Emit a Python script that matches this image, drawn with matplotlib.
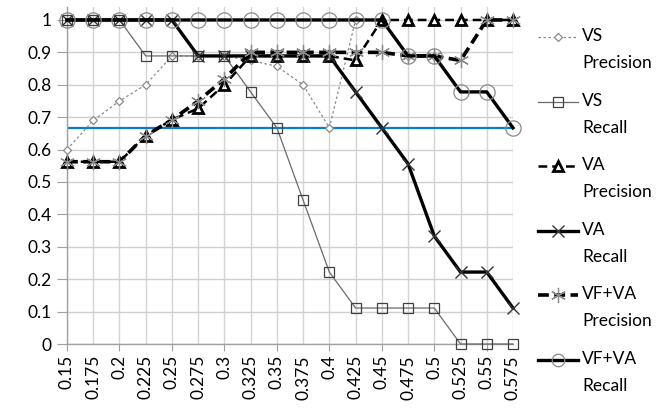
import numpy as np
import matplotlib.pyplot as plt
from matplotlib.lines import Line2D

# categories (threshold values)
thresholds = ['0.15', '0.175', '0.2', '0.225', '0.25', '0.275', '0.3', '0.325', '0.35',
              '0.375', '0.4', '0.425', '0.45', '0.475', '0.5', '0.525', '0.55', '0.575']

nan = np.nan
vs_precision = [0.6, 0.69, 0.75, 0.8, 0.889, 0.889, 0.889, 0.875, 0.857, 0.8, 0.667,
                1.0, 1.0, 0.889, 0.889, nan, nan, nan]
vs_recall = [1.0, 1.0, 1.0, 0.889, 0.889, 0.889, 0.889, 0.778, 0.667, 0.444, 0.222,
             0.111, 0.111, 0.111, 0.111, 0.0, 0.0, 0.0]
va_precision = [0.5625, 0.5625, 0.5625, 0.643, 0.692, 0.727, 0.8, 0.889, 0.889, 0.889, 0.889,
                0.875, 1.0, 1.0, 1.0, 1.0, 1.0, 1.0]
va_recall = [1.0, 1.0, 1.0, 1.0, 1.0, 0.889, 0.889, 0.889, 0.889, 0.889, 0.889,
             0.778, 0.667, 0.556, 0.333, 0.222, 0.222, 0.111]
vfva_precision = [0.5625, 0.5625, 0.5625, 0.643, 0.692, 0.75, 0.818, 0.9, 0.9, 0.9, 0.9,
                  0.9, 0.9, 0.889, 0.889, 0.875, 1.0, 1.0]
vfva_recall = [1.0, 1.0, 1.0, 1.0, 1.0, 1.0, 1.0, 1.0, 1.0, 1.0, 1.0,
               1.0, 1.0, 0.889, 0.889, 0.778, 0.778, 0.667]
reference_level = 0.667

series_labels = ['VS\nPrecision', 'VS\nRecall', 'VA\nPrecision', 'VA\nRecall',
                 'VF+VA\nPrecision', 'VF+VA\nRecall']

y_ticks = [0, 0.1, 0.2, 0.3, 0.4, 0.5, 0.6, 0.7, 0.8, 0.9, 1]
y_tick_labels = ['0', '0.1', '0.2', '0.3', '0.4', '0.5', '0.6', '0.7', '0.8', '0.9', '1']

plt.rcParams['font.family'] = ['Lato', 'DejaVu Sans']

W, H = 657, 415
fig = plt.figure(figsize=(W / 100, H / 100), dpi=100)
ax = fig.add_axes([67 / W, 1 - 344 / H, (513 - 67) / W, (344 - 7) / H])

x = np.arange(len(thresholds))

# grid
for xi in x:
    ax.axvline(xi, color='#d4d4d4', lw=1, zorder=0)
for yv in y_ticks:
    ax.axhline(yv, color='#cfcfcf', lw=1, zorder=0)

ax.axhline(reference_level, color='#0a7bd1', lw=1.6, zorder=1)

styles = [
    dict(color='#8a8a8a', lw=0.9, ls=(0, (2, 2)), marker='D', ms=4,
         mfc='white', mec='#8a8a8a', mew=0.9),
    dict(color='#6a6a6a', lw=0.9, ls='-', marker='s', ms=7,
         mfc='none', mec='#404040', mew=0.9),
    dict(color='black', lw=1.8, ls=(0, (3.5, 2)), marker='^', ms=7,
         mfc='white', mec='black', mew=2),
    dict(color='black', lw=2.4, ls='-', marker='x', ms=8, mec='#333333', mew=1.0),
    dict(color='black', lw=2.6, ls=(0, (3, 1.5)), marker=(6, 2, 0), ms=11,
         mec='#8a8a8a', mew=0.9),
    dict(color='black', lw=2.4, ls='-', marker='o', ms=11,
         mfc='none', mec='#8a8a8a', mew=0.9),
]
series = [vs_precision, vs_recall, va_precision, va_recall, vfva_precision, vfva_recall]
zorders = [3, 3, 4, 4, 4, 5]

for vals, st, z in zip(series, styles, zorders):
    ax.plot(x, vals, zorder=z, clip_on=False, **st)

ax.set_xlim(0, len(thresholds) - 1)
ax.set_ylim(0, 1.04)
ax.set_xticks(x)
ax.set_xticklabels(thresholds, rotation=90, fontsize=12.5)
ax.set_yticks(y_ticks)
ax.set_yticklabels(y_tick_labels, fontsize=12.5)
ax.tick_params(axis='y', length=7, color='#a0a0a0', pad=4)
ax.tick_params(axis='x', length=5, color='#a0a0a0', pad=3)
for i, t in enumerate(ax.xaxis.get_major_ticks()):
    if i % 2 == 1:
        t.tick1line.set_visible(False)

for s in ['top', 'right']:
    ax.spines[s].set_visible(False)
for s in ['left', 'bottom']:
    ax.spines[s].set_color('#a0a0a0')
    ax.spines[s].set_linewidth(1)

# legend: handle lined up with the first line of each label
for k, (lab, st) in enumerate(zip(series_labels, styles)):
    yc = 1 - (37 + 64.6 * k) / H
    fig.add_artist(Line2D([538 / W, 578 / W], [yc, yc], transform=fig.transFigure,
                          color=st['color'], lw=st['lw'], ls=st['ls']))
    mk = {key: st[key] for key in ('marker', 'ms', 'mfc', 'mec', 'mew') if key in st}
    if st['marker'] == 'o':
        mk['ms'] = 9
    fig.add_artist(Line2D([558 / W], [yc], transform=fig.transFigure, ls='none', **mk))
    fig.text(582 / W, yc + 9 / H, lab, fontsize=12.5, va='top', ha='left',
             linespacing=1.85)

plt.savefig('out.png', dpi=100)
